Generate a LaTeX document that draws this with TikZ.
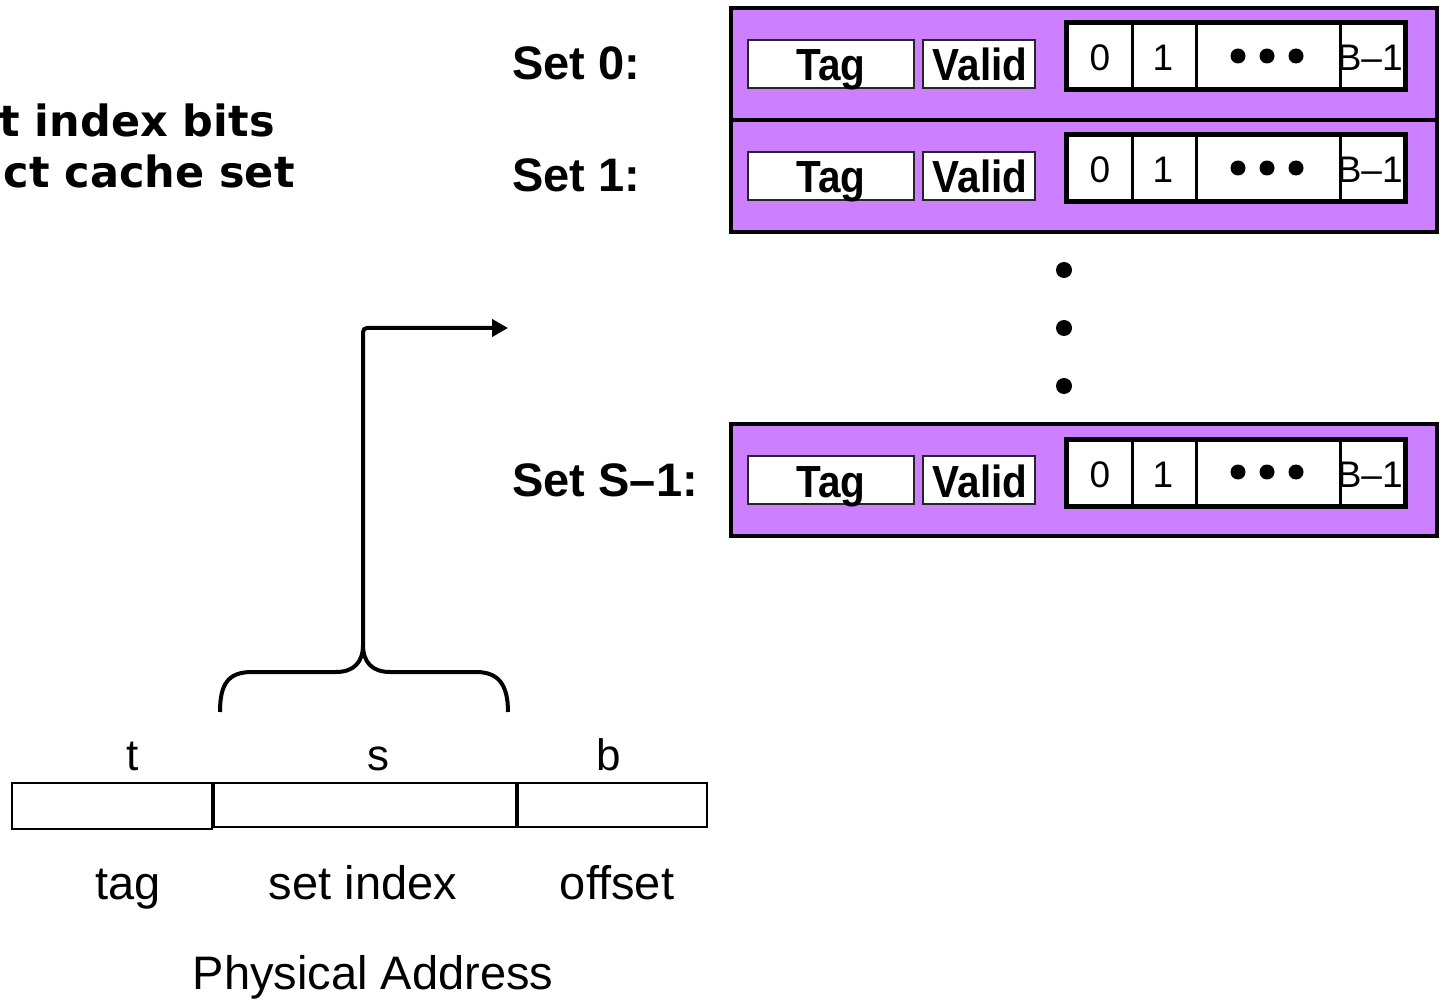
\documentclass[tikz,border=0pt]{standalone}
\usepackage{fontspec}
\setmainfont{Liberation Sans}
\newfontfamily\comicfont{DejaVu Sans}
\usetikzlibrary{arrows.meta}
\definecolor{setpurple}{RGB}{204,128,255}
\newcommand{\narrowtext}[1]{\scalebox{0.9}[1]{#1}}
\begin{document}
\begin{tikzpicture}[x=0.5pt,y=-0.5pt,
  setbox/.style={draw=black,line width=2pt,fill=setpurple},
  fieldbox/.style={draw=black!85,line width=1pt,fill=white},
  blockcell/.style={draw=black,line width=1.5pt,fill=white},
  blockouter/.style={draw=black,line width=2.5pt},
  addrbox/.style={draw=black,line width=1pt},
  setlbl/.style={font=\fontsize{23.5}{28}\selectfont\bfseries,inner sep=0pt},
  fieldlbl/.style={font=\fontsize{22.5}{27}\selectfont\bfseries,inner sep=0pt},
  celllbl/.style={font=\fontsize{18.5}{22}\selectfont,inner sep=0pt},
  addrlbl/.style={font=\fontsize{23.5}{28}\selectfont,inner sep=0pt},
  bitlbl/.style={font=\fontsize{22}{26}\selectfont,inner sep=0pt},
  notelbl/.style={font=\comicfont\fontsize{21.5}{26}\selectfont\bfseries,inner sep=0pt},
  dotmark/.style={fill=black,draw=none},
  conn/.style={line width=2pt},
]
\useasboundingbox (0,0) rectangle (1441,1000);

% note text (cut at left edge)
\node[notelbl,anchor=base east] (note1) at (275,137) {t index bits};
\node[notelbl,anchor=base east] (note2) at (295,188) {ct cache set};

% cache sets
\foreach \yy/\lab/\nm in {8/{Set 0:}/sa, 120/{Set 1:}/sb, 424/{Set S–1:}/sc} {
  \draw[setbox] (731,\yy) rectangle (1437,\yy+112);
  \node[setlbl,anchor=base west] (\nm-lbl) at (512,\yy+72) {\lab};
  \draw[fieldbox] (748,\yy+32) rectangle (914,\yy+80);
  \draw[fieldbox] (923,\yy+32) rectangle (1035,\yy+80);
  \node[fieldlbl,anchor=base] (\nm-tag) at (831,\yy+73) {\narrowtext{Tag}};
  \node[fieldlbl,anchor=base] (\nm-valid) at (980,\yy+73) {\narrowtext{Valid}};
  \draw[blockcell] (1066,\yy+15) rectangle (1132,\yy+82);
  \draw[blockcell] (1132,\yy+15) rectangle (1196,\yy+82);
  \draw[blockcell] (1196,\yy+15) rectangle (1340,\yy+82);
  \draw[blockcell] (1340,\yy+15) rectangle (1405,\yy+82);
  \draw[blockouter] (1066,\yy+15) rectangle (1405,\yy+82);
  \node[celllbl,anchor=base] (\nm-b0) at (1100,\yy+63) {0};
  \node[celllbl,anchor=base] (\nm-b1) at (1163,\yy+63) {1};
  \node[celllbl,anchor=base east] (\nm-bl) at (1403,\yy+63) {B–1};
  \fill[dotmark] (1238,\yy+48) circle (7.5);
  \fill[dotmark] (1267,\yy+48) circle (7.5);
  \fill[dotmark] (1296,\yy+48) circle (7.5);
}

% vertical ellipsis
\fill[dotmark] (1064,270) circle (8);
\fill[dotmark] (1064,328) circle (8);
\fill[dotmark] (1064,386) circle (8);

% physical address
\draw[addrbox] (12,783) rectangle (212,829);
\draw[addrbox] (214,783) rectangle (516,827);
\draw[addrbox] (518,783) rectangle (707,827);
\node[bitlbl,anchor=base] (bt) at (133,770) {t};
\node[bitlbl,anchor=base] (bs) at (378,770) {s};
\node[bitlbl,anchor=base] (bb) at (609,770) {b};
\node[addrlbl,anchor=base] (ftag) at (128,899) {tag};
\node[addrlbl,anchor=base] (fset) at (363,899) {set index};
\node[addrlbl,anchor=base] (foff) at (617,899) {offset};
\node[addrlbl,anchor=base] (phys) at (373,989) {Physical Address};

% brace and arrow
\coordinate (bracetip) at (363,645);
\coordinate (arrowend) at (508,328);
\draw[conn] (220,712) .. controls (220,684) and (228,672) .. (252,672) -- (336,672) .. controls (354,672) and (363,662) .. (bracetip);
\draw[conn] (bracetip) .. controls (363,662) and (372,672) .. (390,672) -- (476,672) .. controls (498,672) and (508,684) .. (508,712);
\draw[conn,-{Triangle[length=8pt,width=8.5pt]},rounded corners=2pt] (bracetip) |- (arrowend);
\end{tikzpicture}
\end{document}
